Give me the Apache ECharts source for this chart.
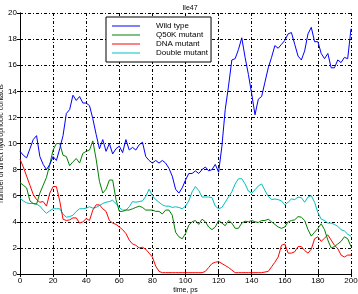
<!DOCTYPE html>
<html>
<head>
<meta charset="utf-8">
<script src="https://cdn.jsdelivr.net/npm/echarts@6/dist/echarts.min.js"></script>
<style>html,body{margin:0;padding:0;background:#fff}#c{width:358px;height:294px}</style>
</head>
<body>
<div id="c"></div>
<script>
const times = [];
for (let t = 0; t <= 200; t += 2) times.push(t);
const xTicks = [0,20,40,60,80,100,120,140,160,180,200];
const yTicks = [0,2,4,6,8,10,12,14,16,18,20];
const seriesNames = ['Wild type','Q50K mutant','DNA mutant','Double mutant'];
const wildType = [9.4,9.1,8.9,9.6,10.3,10.6,9.0,8.4,8.0,8.4,9.0,8.7,9.6,10.6,12.3,12.6,13.7,13.3,13.6,13.1,13.1,12.9,11.9,10.7,9.6,10.3,9.4,10.0,9.2,9.6,9.8,9.3,10.3,9.5,9.7,9.5,9.9,10.1,9.0,8.7,8.5,8.7,8.5,8.7,8.5,8.1,7.5,6.5,6.2,6.6,7.2,7.7,7.7,7.9,7.7,8.0,8.2,7.9,8.0,8.4,7.8,9.8,12.6,14.4,16.4,16.5,17.2,18.1,16.6,15.3,13.8,12.2,13.4,13.6,14.7,15.8,16.6,17.5,17.3,17.6,17.9,18.4,18.5,17.6,16.7,16.4,17.1,18.4,18.9,17.8,17.8,16.9,16.5,16.9,15.8,15.8,16.4,16.2,16.6,16.5,18.8];
const q50k = [7.0,6.8,6.6,5.6,5.4,5.35,6.2,6.8,7.4,8.4,9.5,10.0,10.0,9.1,9.0,8.3,8.6,8.85,8.5,9.25,9.4,9.5,10.2,8.8,7.1,6.2,6.5,7.2,7.2,5.7,4.8,4.8,4.9,4.9,5.0,5.1,5.2,5.1,4.9,4.9,4.9,4.8,4.8,4.6,4.9,4.9,4.5,3.2,2.85,2.7,3.1,3.75,4.0,4.1,3.8,4.2,4.0,3.6,3.4,3.6,4.1,3.9,3.7,4.1,3.9,3.5,3.5,3.9,4.05,4.0,4.1,4.0,3.95,4.1,4.1,4.2,4.0,3.8,3.6,3.5,3.6,4.0,4.1,4.15,4.4,4.35,4.1,3.4,2.9,3.2,3.5,3.85,3.4,2.6,2.0,2.1,2.3,2.5,2.85,2.7,2.1];
const dnaMutant = [8.8,8.2,7.5,6.8,6.1,5.7,5.5,5.55,5.2,6.2,6.7,6.7,5.6,4.2,4.1,4.15,4.3,4.3,3.9,4.0,4.25,4.1,4.9,5.3,5.3,5.0,4.8,4.1,3.9,3.8,3.6,3.4,3.1,2.6,2.3,2.2,2.0,2.05,1.9,1.6,1.3,0.6,0.2,0.1,0.1,0.1,0.1,0.1,0.1,0.1,0.1,0.1,0.1,0.1,0.1,0.1,0.2,0.5,0.8,0.9,0.95,0.8,0.65,0.5,0.3,0.1,0.1,0.1,0.1,0.1,0.1,0.1,0.1,0.1,0.15,0.2,0.55,0.9,1.3,2.2,2.3,1.6,1.6,1.7,2.1,2.1,1.8,1.6,1.9,2.7,2.85,2.5,2.75,3.0,2.6,2.2,1.95,1.45,1.3,1.45,1.45,1.07];
const doubleMutant = [5.8,5.6,5.45,5.4,5.4,5.35,5.2,4.9,4.65,4.85,5.0,5.0,5.0,4.6,4.35,4.4,4.5,4.8,5.0,5.0,5.05,5.15,5.05,5.1,5.25,5.4,5.5,5.55,5.65,5.4,5.1,4.9,4.9,5.15,5.55,5.5,5.55,5.6,5.95,6.5,6.0,5.7,5.5,5.3,5.2,5.2,5.1,5.15,5.1,5.0,5.2,5.6,6.3,6.7,6.4,5.9,5.9,5.9,5.85,5.2,5.0,5.1,5.5,5.9,6.3,6.9,7.3,7.3,6.9,6.35,6.2,6.45,6.75,6.9,6.4,5.95,5.7,5.75,5.7,5.6,5.3,5.5,5.75,5.7,5.9,5.85,5.5,5.9,6.0,5.5,4.7,4.2,4.1,3.9,3.9,3.8,3.65,3.4,3.3,3.05,2.9];
const colors = ['#0000ff','#008000','#ff0000','#00bfbf'];
const allValues = [wildType, q50k, dnaMutant, doubleMutant];

const font = 'Liberation Sans, Arial, sans-serif';
const gridLine = {show:true, lineStyle:{color:'#000', type:[3,2,1,2], width:1}};
const chart = echarts.init(document.getElementById('c'), null, {renderer:'canvas'});
chart.setOption({
  animation:false,
  backgroundColor:'#fff',
  title:{text:'Ile47', left:185, top:0, textAlign:'center',
    textStyle:{fontSize:7, fontWeight:'normal', color:'#000', fontFamily:font}},
  grid:{left:20, right:7, top:13, bottom:20, containLabel:false, outerBoundsMode:'none'},
  legend:{
    data:seriesNames, orient:'vertical', left:106, top:17,
    itemWidth:28, itemHeight:8, itemGap:1,
    padding:[5,3,5,6],
    backgroundColor:'#fff', borderColor:'#000', borderWidth:1,
    textStyle:{fontSize:8, color:'#000', fontFamily:font, padding:[0,0,0,11]},
    icon:'path://M0,5 L28,5 L28,6 L0,6 Z'
  },
  xAxis:[{
    type:'value', min:0, max:200, interval:20,
    name:'time, ps', nameLocation:'middle', nameGap:13, nameMoveOverlap:false,
    nameTextStyle:{fontSize:7, color:'#000', fontFamily:font},
    axisLine:{show:true, lineStyle:{color:'#000', width:1}},
    axisTick:{show:true, inside:true, length:3, lineStyle:{color:'#000'}},
    axisLabel:{fontSize:8, color:'#000', fontFamily:font, margin:3,
      formatter:v => xTicks.includes(v) ? String(v) : ''},
    splitLine:gridLine
  },{
    type:'value', min:0, max:200, interval:20, position:'top',
    axisLine:{show:true, lineStyle:{color:'#000', width:1}},
    axisTick:{show:true, inside:true, length:3, lineStyle:{color:'#000'}},
    axisLabel:{show:false}, splitLine:{show:false}
  }],
  yAxis:[{
    type:'value', min:0, max:20, interval:2,
    name:'number of direct hydrophobic contacts', nameLocation:'middle', nameGap:15, nameMoveOverlap:false,
    nameTextStyle:{fontSize:7, color:'#000', fontFamily:font},
    axisLine:{show:true, lineStyle:{color:'#000', width:1}},
    axisTick:{show:true, inside:true, length:3, lineStyle:{color:'#000'}},
    axisLabel:{fontSize:8, color:'#000', fontFamily:font, margin:3,
      formatter:v => yTicks.includes(v) ? String(v) : ''},
    splitLine:gridLine
  },{
    type:'value', min:0, max:20, interval:2, position:'right',
    axisLine:{show:true, lineStyle:{color:'#000', width:1}},
    axisTick:{show:true, inside:true, length:3, lineStyle:{color:'#000'}},
    axisLabel:{show:false}, splitLine:{show:false}
  }],
  series: seriesNames.map((name, i) => ({
    name, type:'line', symbol:'none', showSymbol:false,
    data: times.map((t, j) => [t, allValues[i][j]]),
    lineStyle:{color:colors[i], width:1},
    itemStyle:{color:colors[i]},
    z: 4 - i
  }))
});
</script>
</body>
</html>
